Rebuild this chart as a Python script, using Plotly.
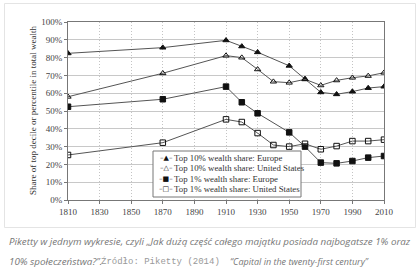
import plotly.graph_objects as go

# ---- data ----
years_eu = [1810, 1870, 1910, 1920, 1930, 1950, 1960, 1970, 1980, 1990, 2000, 2010]
top10_eu = [82.4, 85.6, 89.7, 86.3, 83.0, 75.4, 68.0, 60.5, 59.4, 60.9, 62.9, 63.7]
top1_eu = [52.4, 56.6, 63.7, 54.9, 48.7, 38.0, 30.0, 21.0, 20.6, 21.9, 23.8, 24.7]
years_us = [1810, 1870, 1910, 1920, 1930, 1940, 1950, 1960, 1970, 1980, 1990, 2000, 2010]
top10_us = [58.0, 71.2, 81.1, 80.0, 73.4, 66.5, 65.9, 67.8, 64.4, 67.2, 68.7, 69.7, 71.5]
top1_us = [25.3, 32.2, 45.3, 43.8, 37.6, 30.9, 30.0, 31.6, 28.5, 30.3, 33.1, 33.1, 33.9]

series_names = [
    "Top 10% wealth share: Europe",
    "Top 10% wealth share: United States",
    "Top 1% wealth share: Europe",
    "Top 1% wealth share: United States",
]
legend_glyphs = ["▲", "△", "■", "□"]
x_ticks = list(range(1810, 2011, 20))
y_ticks = list(range(0, 101, 10))
y_ticklabels = [f"{v}%" for v in y_ticks]

y_title = "Share of top decile or percentile in total wealth"
caption1 = "Piketty w jednym wykresie, czyli „Jak dużą część całego majątku posiada najbogatsze 1% oraz"
caption2a = "10% społeczeństwa?”."
caption2b = "Źródło: Piketty (2014)"
caption2c = "“Capital in the twenty-first century”"

# ---- layout geometry (pixels) ----
W, H = 420, 271
L, R, T, B = 68, 384, 22, 200


def px(x):
    return (x - L) / (R - L)


def py(y):
    return (B - y) / (B - T)


SERIF = "Liberation Serif"
LINE = "#555555"
MK = "#111111"

fig = go.Figure()
styles = [
    (years_eu, top10_eu, "triangle-up", MK),
    (years_us, top10_us, "triangle-up-open", MK),
    (years_eu, top1_eu, "square", MK),
    (years_us, top1_us, "square-open", MK),
]
for (xs, ys, sym, col), name in zip(styles, series_names):
    fig.add_trace(go.Scatter(
        x=xs, y=ys, name=name, mode="lines+markers",
        line=dict(color=LINE, width=1),
        marker=dict(symbol=sym, size=5.5, color=col,
                    line=dict(color=MK, width=1)),
        showlegend=False,
    ))

fig.update_layout(
    width=W, height=H,
    margin=dict(l=L, r=W - R, t=T, b=H - B, pad=0),
    paper_bgcolor="white", plot_bgcolor="white",
    xaxis=dict(
        range=[1810, 2010], tickvals=x_ticks, ticktext=[str(v) for v in x_ticks],
        showgrid=True, gridcolor="#c4c4c4", gridwidth=1, griddash="1px,2px",
        showline=True, linecolor="#777777", linewidth=1, mirror=True,
        ticks="outside", ticklen=3, tickcolor="#777777",
        tickfont=dict(family=SERIF, size=9, color="#444444"),
        zeroline=False,
    ),
    yaxis=dict(
        range=[0, 100], tickvals=y_ticks, ticktext=y_ticklabels,
        showgrid=True, gridcolor="#c8c8c8", gridwidth=1,
        showline=True, linecolor="#777777", linewidth=1, mirror=True,
        ticks="outside", ticklen=3, tickcolor="#777777",
        tickfont=dict(family=SERIF, size=9, color="#444444"),
        zeroline=False,
    ),
    showlegend=False,
)

shapes = []
# card border
shapes.append(dict(type="rect", xref="paper", yref="paper",
                   x0=px(4.5), x1=px(415.5), y0=py(3.5), y1=py(227.5),
                   line=dict(color="#e4e4e4", width=1), fillcolor="rgba(0,0,0,0)",
                   layer="below"))
# legend box
shapes.append(dict(type="rect", xref="paper", yref="paper",
                   x0=px(153), x1=px(301), y0=py(151), y1=py(197),
                   line=dict(color="#777777", width=1), fillcolor="white",
                   layer="above"))
fig.update_layout(shapes=shapes)

ann = []
leg_y = [157.7, 168.2, 178.7, 189.2]
for g, name, yy in zip(legend_glyphs, series_names, leg_y):
    ann.append(dict(xref="paper", yref="paper", x=px(166), y=py(yy),
                    text=f"<span style='color:#555'>–</span>{g}<span style='color:#555'>–</span>",
                    showarrow=False, xanchor="center", yanchor="middle",
                    font=dict(family="DejaVu Sans", size=7, color="#111")))
    ann.append(dict(xref="paper", yref="paper", x=px(172), y=py(yy),
                    text=name, showarrow=False, xanchor="left", yanchor="middle",
                    font=dict(family=SERIF, size=8.8, color="#333")))

ann.append(dict(xref="paper", yref="paper", x=px(33), y=py(111), text=y_title,
                textangle=-90, showarrow=False, xanchor="center", yanchor="middle",
                font=dict(family=SERIF, size=9, color="#333")))

cap_font = dict(family="Open Sans", size=9.8, color="#777777")
ann.append(dict(xref="paper", yref="paper", x=px(7), y=py(242), text=f"<i>{caption1}</i>",
                showarrow=False, xanchor="left", yanchor="middle", font=cap_font))
ann.append(dict(xref="paper", yref="paper", x=px(7), y=py(261.5), text=f"<i>{caption2a}</i>",
                showarrow=False, xanchor="left", yanchor="middle", font=cap_font))
ann.append(dict(xref="paper", yref="paper", x=px(99), y=py(261.5), text=caption2b,
                showarrow=False, xanchor="left", yanchor="middle",
                font=dict(family="Liberation Mono", size=9, color="#999999")))
ann.append(dict(xref="paper", yref="paper", x=px(228), y=py(261.5), text=f"<i>{caption2c}</i>",
                showarrow=False, xanchor="left", yanchor="middle",
                font=dict(family="Open Sans", size=9, color="#777777")))
fig.update_layout(annotations=ann)

fig.write_html("out.html", config={"displayModeBar": False})
